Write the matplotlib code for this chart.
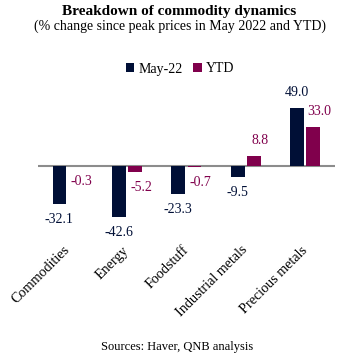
import matplotlib
matplotlib.use("Agg")
import matplotlib.pyplot as plt
import numpy as np

categories = ["Commodities", "Energy", "Foodstuff", "Industrial metals", "Precious metals"]
may22 = [-32.1, -42.6, -23.3, -9.5, 49.0]
ytd = [-0.3, -5.2, -0.7, 8.8, 33.0]

NAVY = "#000F36"
MAROON = "#80004C"

plt.rcParams['font.family'] = ['Liberation Serif', 'DejaVu Serif']

fig = plt.figure(figsize=(3.59, 3.61), dpi=100)
W, H = 359, 361
left, right = 37.7, 335
top_px, bot_px = 94.6, 231.5
ax = fig.add_axes([left / W, 1 - bot_px / H, (right - left) / W, (bot_px - top_px) / H])

x = np.arange(len(categories))
bw = 0.23
off = 0.135
ax.bar(x - off, may22, bw, color=NAVY, label="May-22")
ax.bar(x + off, ytd, bw, color=MAROON, label="YTD")

ax.set_xlim(-0.5, len(categories) - 0.5)
ax.set_ylim(-55, 60)
ax.axhline(0, color="#8c8c8c", lw=1.5, zorder=0)

for i, v in enumerate(may22):
    ax.annotate(f"{v:.1f}", (x[i] - off, v), xytext=(0, 11 if v > 0 else -11),
                textcoords="offset points", ha="center", va="center",
                fontsize=10, color=NAVY)
for i, v in enumerate(ytd):
    ax.annotate(f"{v:.1f}", (x[i] + off, v), xytext=(4.5, 11 if v > 0 else -11),
                textcoords="offset points", ha="center", va="center",
                fontsize=10, color=MAROON)

for s in ax.spines.values():
    s.set_visible(False)
ax.set_yticks([])
ax.set_xticks(x)
ax.set_xticklabels(categories, rotation=45, ha="right", va="center",
                   rotation_mode="anchor", fontsize=10.2)
ax.tick_params(axis="x", length=0, pad=12)

fig.text(0.5, 1 - 12 / H, "Breakdown of commodity dynamics", ha="center", va="center",
         fontsize=11, fontweight="bold")
fig.text(0.5, 1 - 26 / H, "(% change since peak prices in May 2022 and YTD)", ha="center",
         va="center", fontsize=10)
fig.text(177 / W, 1 - 347 / H, "Sources: Haver, QNB analysis", ha="center", va="center",
         fontsize=9)

fig.legend(loc="center", bbox_to_anchor=(180 / W, 1 - 69 / H), ncol=2, frameon=False,
           fontsize=10, handlelength=0.6, handleheight=0.6, handletextpad=0.3,
           columnspacing=0.8)

fig.savefig("out.png", dpi=100)
